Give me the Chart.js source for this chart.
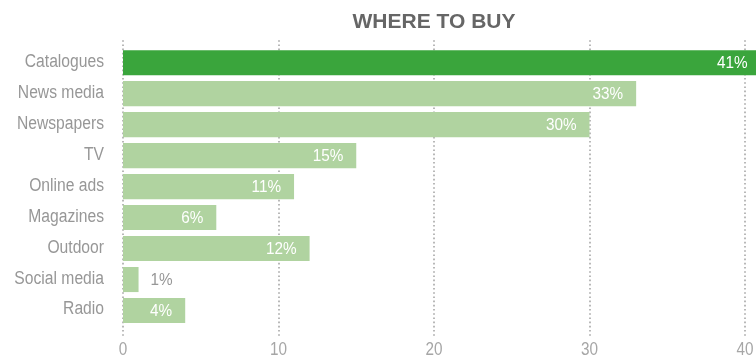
<!DOCTYPE html>
<html>
<head>
<meta charset="utf-8">
<title>Where to buy</title>
<script src="https://cdn.jsdelivr.net/npm/chart.js@4/dist/chart.umd.min.js"></script>
<style>
  html, body { margin: 0; padding: 0; background: #fff; }
  #wrap { width: 756px; height: 359px; position: relative; }
</style>
</head>
<body>
<div id="wrap"><canvas id="chart-buy"></canvas></div>
<script>
const categories = ["Catalogues", "News media", "Newspapers", "TV", "Online ads", "Magazines", "Outdoor", "Social media", "Radio"];
const shares = [41, 33, 30, 15, 11, 6, 12, 1, 4];
const xTicks = [0, 10, 20, 30, 40];

const FONT = "'Liberation Sans', Arial, sans-serif";
const DARK = "#3aa53c";
const LIGHT = "#b0d3a0";

// no condensed face is installed, so squeeze a regular one horizontally
function condensedText(ctx, text, x, y, align, sx) {
  ctx.save();
  ctx.translate(x, y);
  ctx.scale(sx, 1);
  ctx.textAlign = align;
  ctx.fillText(text, 0, 0);
  ctx.restore();
}

// dotted vertical grid, drawn a little past the plot area
const dottedGrid = {
  id: "dottedGrid",
  beforeDatasetsDraw(chart) {
    const { ctx, chartArea, scales } = chart;
    ctx.save();
    ctx.strokeStyle = "#b8b8b8";
    ctx.lineWidth = 2;
    ctx.setLineDash([1.6, 2.6]);
    xTicks.forEach((v) => {
      const x = Math.round(scales.x.getPixelForValue(v));
      ctx.beginPath();
      ctx.moveTo(x, chartArea.top - 7);
      ctx.lineTo(x, chartArea.bottom + 11);
      ctx.stroke();
    });
    ctx.restore();
  },
};

// axis labels in the narrow style
const axisLabels = {
  id: "axisLabels",
  afterDraw(chart) {
    const { ctx, chartArea, scales } = chart;
    ctx.save();
    ctx.textBaseline = "middle";
    ctx.font = "18px " + FONT;
    ctx.fillStyle = "#979797";
    categories.forEach((c, i) => {
      condensedText(ctx, c, chartArea.left - 19, scales.y.getPixelForValue(i) - 1, "right", 0.87);
    });
    ctx.fillStyle = "#a6a6a6";
    xTicks.forEach((v) => {
      condensedText(ctx, String(v), scales.x.getPixelForValue(v), chartArea.bottom + 24, "center", 0.85);
    });
    ctx.restore();
  },
};

// percent labels: inside the bar end when there is room, otherwise just after it
const valueLabels = {
  id: "valueLabels",
  afterDatasetsDraw(chart) {
    const { ctx } = chart;
    const meta = chart.getDatasetMeta(0);
    ctx.save();
    ctx.font = "17px " + FONT;
    ctx.textBaseline = "middle";
    meta.data.forEach((bar, i) => {
      const text = shares[i] + "%";
      const w = ctx.measureText(text).width * 0.9;
      const len = bar.x - bar.base;
      if (len > w + 20) {
        ctx.fillStyle = "#fff";
        condensedText(ctx, text, bar.x - 13, bar.y + 1, "right", 0.9);
      } else {
        ctx.fillStyle = "#979797";
        condensedText(ctx, text, bar.x + 12, bar.y + 1, "left", 0.9);
      }
    });
    ctx.restore();
  },
};

new Chart(document.getElementById("chart-buy"), {
  type: "bar",
  data: {
    labels: categories,
    datasets: [
      {
        data: shares,
        backgroundColor: shares.map((_, i) => (i === 0 ? DARK : LIGHT)),
        borderWidth: 0,
        categoryPercentage: 1,
        barPercentage: 0.81,
        clip: false,
      },
    ],
  },
  options: {
    indexAxis: "y",
    responsive: true,
    maintainAspectRatio: false,
    animation: false,
    layout: { padding: { left: 0, right: 11, top: 0, bottom: 0 } },
    plugins: {
      legend: { display: false },
      tooltip: { enabled: false },
      title: {
        display: true,
        text: "WHERE TO BUY",
        fullSize: false,
        color: "#666",
        font: { family: FONT, size: 21, weight: "bold" },
        padding: { top: 10, bottom: 12 },
      },
    },
    scales: {
      x: {
        min: 0,
        max: 40,
        afterBuildTicks(scale) {
          scale.ticks = xTicks.map((v) => ({ value: v }));
        },
        afterFit(scale) {
          scale.height = 33;
          scale.paddingLeft = 0;
          scale.paddingRight = 0;
        },
        grid: { display: false, drawTicks: false },
        border: { display: false },
        ticks: { display: false },
      },
      y: {
        afterFit(scale) {
          scale.width = 123;
          scale.paddingTop = 0;
          scale.paddingBottom = 0;
        },
        grid: { display: false, drawTicks: false },
        border: { display: false },
        ticks: { display: false },
      },
    },
  },
  plugins: [dottedGrid, valueLabels, axisLabels],
});
</script>
</body>
</html>
